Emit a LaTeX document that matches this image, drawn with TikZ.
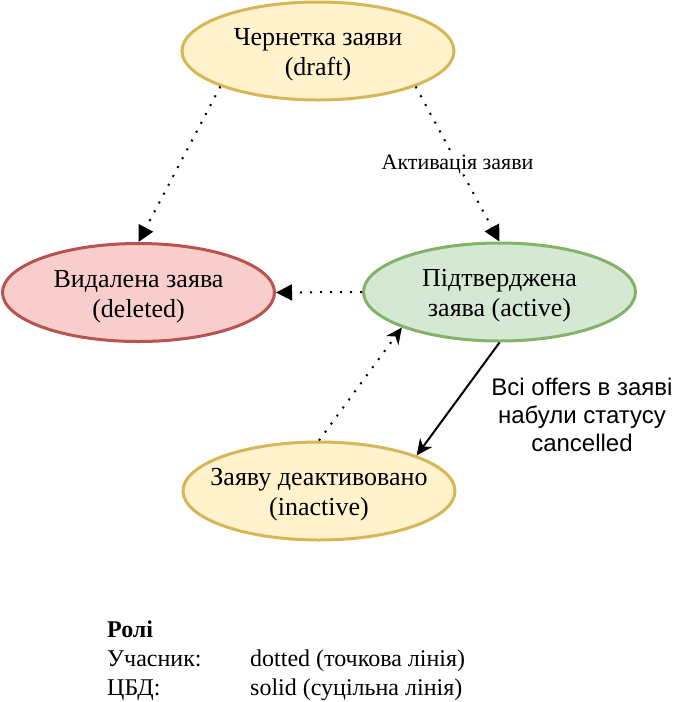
\documentclass[tikz,border=0pt]{standalone}
\usepackage{fontspec}
\setmainfont{Liberation Serif}
\setsansfont{Liberation Sans}
\usetikzlibrary{arrows.meta,shapes.geometric}

\definecolor{draftfill}{HTML}{FFF2CC}
\definecolor{draftline}{HTML}{D6B656}
\definecolor{delfill}{HTML}{F8CECC}
\definecolor{delline}{HTML}{B85450}
\definecolor{actfill}{HTML}{D5E8D4}
\definecolor{actline}{HTML}{82B366}

\newcommand{\topstrut}{\rule{0pt}{25pt}}

\begin{document}
\begin{tikzpicture}[x=1pt, y=-1pt,
  state/.style={ellipse, line width=3pt, minimum width=272pt, minimum height=98pt,
    inner sep=-30pt, align=center, font=\fontsize{26}{30}\selectfont},
  usr/.style={line width=2pt, dash pattern=on 2pt off 8pt},
  cbd/.style={line width=2pt},
  blk/.style={-{Triangle[length=16pt,width=16pt]}},
  cls/.style={-{Stealth[length=16pt,width=15pt,inset=5pt]}},
  legend/.style={anchor=base west, inner sep=0pt, font=\fontsize{24}{30}\selectfont}]

\useasboundingbox (0,0) rectangle (682,702);

\def\lx{107};
\def\cx{250};

% states
\node[state, draw=draftline, fill=draftfill] (draft) at (318,51) {\topstrut Чернетка заяви\\(draft)};
\node[state, draw=delline, fill=delfill] (deleted) at (138.5,292.5) {\topstrut Видалена заява\\(deleted)};
\node[state, draw=actline, fill=actfill] (active) at (499.5,292) {\topstrut Підтверджена\\заява (active)};
\node[state, draw=draftline, fill=draftfill] (inactive) at (319,491) {\topstrut Заяву деактивовано\\(inactive)};

% transitions
\draw[usr, blk] (draft.200) -- (deleted.north);
\draw[usr, blk] (draft.340) -- (active.north)
  node[midway, fill=white, inner sep=1pt, font=\fontsize{22}{26}\selectfont] (act) {Активація заяви};
\draw[usr, blk] (active.west) -- (deleted.east);
\draw[usr, cls] (inactive.north) -- (active.200);
\draw[cbd, cls] (active.south) -- (inactive.20);

\node[align=center, font=\sffamily\fontsize{24}{28}\selectfont] (cancel) at (582,415)
  {Всі offers в заяві\\набули статусу\\cancelled};

% roles
\node[legend] (roles) at (\lx,637) {\textbf{Ролі}};
\node[legend] (user) at (\lx,666) {Учасник:};
\node[legend] (userln) at (\cx,666) {dotted (точкова лінія)};
\node[legend] (cbd) at (\lx,695) {ЦБД:};
\node[legend] (cbdln) at (\cx,695) {solid (суцільна лінія)};

\end{tikzpicture}
\end{document}
